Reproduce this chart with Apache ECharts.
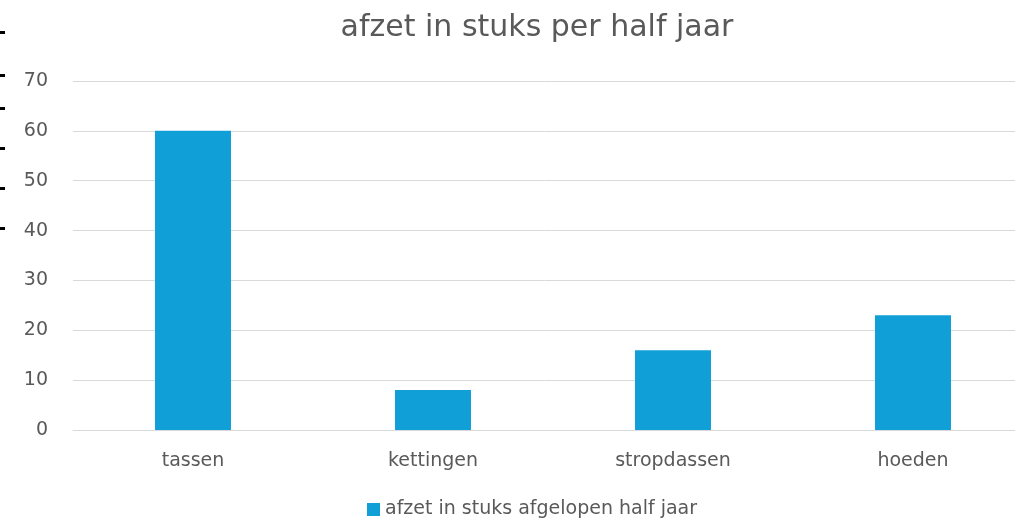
<!DOCTYPE html>
<html>
<head>
<meta charset="utf-8">
<script src="https://cdn.jsdelivr.net/npm/echarts@6/dist/echarts.min.js"></script>
<style>
html,body{margin:0;padding:0;background:#fff;}
#c{width:1015px;height:524px;}
</style>
</head>
<body>
<div id="c"></div>
<script>
const categories = ['tassen', 'kettingen', 'stropdassen', 'hoeden'];
const values = [60, 8, 16, 23];
const seriesName = 'afzet in stuks afgelopen half jaar';
const titleText = 'afzet in stuks per half jaar';

const chart = echarts.init(document.getElementById('c'), null, {renderer: 'canvas'});
const edgeMarks = [32, 75, 108, 148, 188, 228];
const FONT = 'DejaVu Sans';
chart.setOption({
  animation: false,
  backgroundColor: '#ffffff',
  title: {
    text: titleText,
    left: 532,
    textAlign: 'center',
    top: 8,
    textStyle: {fontFamily: FONT, fontSize: 30, fontWeight: 'normal', color: '#595959'}
  },
  legend: {
    bottom: 0,
    left: 362,
    itemWidth: 13,
    itemHeight: 13,
    icon: 'rect',
    itemGap: 6,
    textStyle: {fontFamily: FONT, fontSize: 19, color: '#595959'}
  },
  grid: {left: 73, top: 81, width: 960, bottom: 94, containLabel: false, outerBoundsMode: 'none'},
  xAxis: {
    type: 'category',
    data: categories,
    axisLine: {show: true, lineStyle: {color: '#d9d9d9', width: 1}},
    axisTick: {show: false},
    axisLabel: {fontFamily: FONT, fontSize: 19, color: '#595959', margin: 22}
  },
  yAxis: {
    type: 'value',
    min: 0, max: 70, interval: 10,
    axisLine: {show: false},
    axisTick: {show: false},
    splitLine: {lineStyle: {color: '#d9d9d9', width: 1}},
    axisLabel: {fontFamily: FONT, fontSize: 19, color: '#595959', margin: 25}
  },
  series: [{
    name: seriesName,
    type: 'bar',
    data: values,
    barWidth: 76,
    itemStyle: {color: '#119fd7'}
  }],
  graphic: edgeMarks.map(y => ({
    type: 'rect', shape: {x: 0, y: y - 1, width: 5, height: 3}, style: {fill: '#000'}
  }))
});
</script>
</body>
</html>
